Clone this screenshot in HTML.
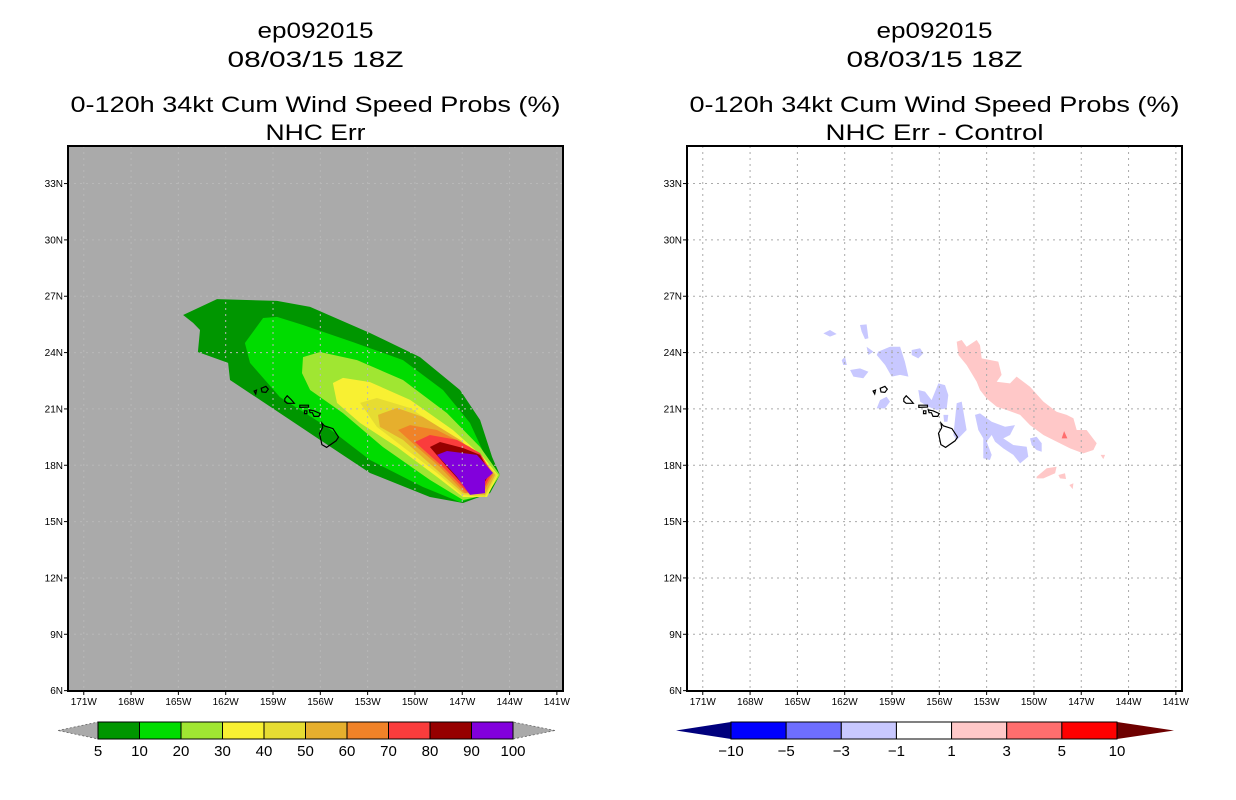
<!DOCTYPE html>
<html><head><meta charset="utf-8"><style>
html,body{margin:0;padding:0;background:#fff;}
svg{display:block;}
text{font-family:"Liberation Sans",sans-serif;}
</style></head><body>
<svg id="chart" width="1236" height="800" viewBox="0 0 1236 800" xmlns="http://www.w3.org/2000/svg"></svg>
<script>
// ---------- data ----------
const lonTicks = [-171,-168,-165,-162,-159,-156,-153,-150,-147,-144,-141];
const lonTickLabels = ["171W","168W","165W","162W","159W","156W","153W","150W","147W","144W","141W"];
const latTicks = [6,9,12,15,18,21,24,27,30,33];
const latTickLabels = ["6N","9N","12N","15N","18N","21N","24N","27N","30N","33N"];

const probLevels = ["5","10","20","30","40","50","60","70","80","90","100"];
const probColors = ["#009600","#00dc00","#a0e632","#f8f032","#e6dc32","#e6af2d","#f08228","#fa3c3c","#960000","#8200dc"];

const contour5 = [[-164.7,26.0],[-162.55,26.85],[-158.75,26.75],[-156.65,26.43],[-152.85,25.04],[-149.68,23.76],[-147.14,22.01],[-145.87,20.41],[-145.11,18.44],[-144.61,17.48],[-145.24,16.52],[-146.95,15.99],[-149.05,16.31],[-152.85,17.59],[-156.02,19.35],[-158.56,20.78],[-161.73,22.54],[-161.85,23.45],[-163.76,24.03],[-163.63,25.2],[-164.07,25.58]];
const contour10 = [[-160.78,24.51],[-159.63,25.84],[-158.75,25.9],[-157.1,25.47],[-153.93,24.56],[-150.76,23.6],[-148.22,22.01],[-146.51,20.25],[-145.37,18.17],[-144.61,17.48],[-145.37,16.52],[-147.14,16.04],[-149.49,16.84],[-152.85,18.28],[-155.58,20.04],[-158.56,21.63],[-160.46,23.45]];
const contour20 = [[-157.1,23.76],[-156.02,24.03],[-153.67,23.6],[-150.76,22.54],[-147.97,20.78],[-145.87,18.97],[-144.61,17.48],[-145.43,16.42],[-146.95,16.15],[-149.05,17.22],[-152.03,18.97],[-154.56,20.78],[-156.65,22.01],[-157.16,22.91]];
const contour30 = [[-155.2,22.38],[-154.56,22.65],[-152.85,22.43],[-150.31,21.48],[-147.59,19.88],[-145.68,18.44],[-144.73,17.48],[-145.43,16.31],[-146.95,16.31],[-148.6,17.38],[-151.14,18.97],[-153.48,20.25],[-154.94,21.32]];
const contour40 = [[-153.48,21.32],[-152.41,21.58],[-150.31,21.05],[-147.59,19.5],[-145.68,18.28],[-144.8,17.48],[-145.56,16.31],[-147.02,16.42],[-148.6,17.59],[-150.76,18.97],[-152.41,20.04]];
const contour50 = [[-152.34,20.68],[-151.14,21.05],[-149.49,20.57],[-147.14,19.35],[-145.56,18.17],[-144.92,17.48],[-145.56,16.42],[-146.95,16.52],[-148.6,17.75],[-150.76,19.35],[-152.22,20.04]];
const contour60 = [[-151.07,19.88],[-150.31,20.14],[-148.6,19.88],[-146.51,18.97],[-145.37,17.91],[-145.05,17.48],[-145.68,16.52],[-146.83,16.52],[-148.41,17.91],[-149.87,18.97]];
const contour70 = [[-150.0,19.24],[-149.05,19.61],[-147.33,19.35],[-145.87,18.65],[-145.11,17.59],[-145.75,16.58],[-146.7,16.58],[-148.22,17.91]];
const contour80 = [[-149.05,18.97],[-148.41,19.24],[-146.95,18.92],[-145.87,18.55],[-145.24,17.59],[-145.87,16.68],[-146.64,16.68],[-147.97,17.91]];
const contour90 = [[-148.6,18.55],[-147.97,18.76],[-146.07,18.55],[-145.05,17.59],[-145.56,17.22],[-145.56,16.52],[-146.51,16.42],[-147.33,17.38]];

const diffLevels = ["-10","-5","-3","-1","1","3","5","10"];
const diffColors = ["#0000ff","#6e6eff","#c8c8ff","#ffffff","#ffc8c8","#ff6e6e","#ff0000"];
const diffLowColor = "#00007d";
const diffHighColor = "#6e0000";

const posBlob1 = [[-154.9,24.58],[-154.58,24.67],[-154.27,24.31],[-153.63,24.67],[-153.42,24.4],[-153.31,23.69],[-152.26,23.52],[-152.05,22.81],[-152.36,22.45],[-151.52,22.36],[-151.1,22.72],[-150.25,22.18],[-149.4,21.39],[-148.56,20.85],[-147.92,20.68],[-147.5,20.5],[-147.29,19.88],[-146.66,19.88],[-146.02,19.17],[-146.23,18.81],[-146.87,18.63],[-147.71,18.9],[-148.56,19.26],[-149.4,19.61],[-150.25,20.14],[-150.88,20.68],[-151.73,20.94],[-152.36,21.12],[-153.0,21.56],[-153.42,22.01],[-153.63,22.45],[-154.27,23.34],[-154.79,23.87]];
const posBlob2 = [[-149.83,17.39],[-149.19,17.84],[-148.56,17.92],[-148.66,17.57],[-149.4,17.3],[-149.83,17.3]];
const posBlob3 = [[-148.45,17.48],[-148.03,17.57],[-147.97,17.27],[-148.35,17.3]];
const posBlob4 = [[-147.76,16.95],[-147.5,17.04],[-147.54,16.73]];
const posBlob5 = [[-145.77,18.55],[-145.49,18.55],[-145.6,18.33]];
const pos3Blob = [[-148.09,19.82],[-147.88,19.43],[-148.24,19.43]];

const negBlob1 = [[-163.35,25.02],[-162.93,25.2],[-162.51,24.99],[-162.93,24.85]];
const negBlob2 = [[-161.03,25.47],[-160.61,25.5],[-160.5,24.76],[-160.71,24.72],[-160.92,25.11]];
const negBlob3 = [[-159.87,24.05],[-159.13,24.31],[-158.49,24.31],[-158.18,23.52],[-157.96,22.72],[-158.49,22.81],[-159.02,22.72],[-159.44,23.34],[-159.97,23.87]];
const negBlob4 = [[-160.61,24.31],[-160.18,24.05],[-160.5,23.87]];
const negBlob5 = [[-157.75,24.14],[-157.22,24.23],[-157.01,23.96],[-157.33,23.69],[-157.75,23.87]];
const negBlob6 = [[-161.66,23.07],[-161.03,23.16],[-160.5,22.98],[-160.82,22.63],[-161.45,22.72]];
const negBlob7 = [[-162.19,23.6],[-161.98,23.78],[-161.87,23.34],[-162.09,23.34]];
const negBlob8 = [[-159.97,21.03],[-159.76,21.47],[-159.34,21.65],[-159.13,21.39],[-159.44,21.03]];
const negBlob9 = [[-157.33,22.01],[-156.91,21.92],[-156.49,21.47],[-156.06,22.36],[-155.64,22.27],[-155.43,21.74],[-155.53,21.03],[-156.17,20.94],[-156.7,21.12],[-157.22,21.39]];
const negBlob10 = [[-154.9,21.3],[-154.58,21.39],[-154.27,19.88],[-154.9,19.34],[-155.11,19.61]];
const negBlob11 = [[-155.74,20.68],[-155.43,20.68],[-155.49,20.32],[-155.7,20.32]];
const negBlob12 = [[-153.74,20.68],[-153.42,20.76],[-152.68,20.32],[-151.83,20.05],[-151.2,20.14],[-151.52,19.61],[-151.94,19.43],[-151.31,19.08],[-150.46,18.99],[-150.36,18.46],[-150.88,18.1],[-151.31,18.55],[-151.94,18.9],[-152.47,19.26],[-152.68,19.61],[-153.0,19.26],[-152.68,18.55],[-152.79,18.28],[-153.21,18.37],[-153.21,19.43],[-153.53,19.88]];
const negBlob13 = [[-150.25,19.43],[-149.83,19.52],[-149.51,19.17],[-149.51,18.72],[-149.83,18.81],[-150.14,19.08]];

const islandHawaii = [[-155.9,20.25],[-155.75,20.1],[-155.2,19.95],[-154.85,19.5],[-155.0,19.3],[-155.6,18.95],[-155.9,19.1],[-156.05,19.7],[-155.85,20.0]];
const islandMaui = [[-156.7,20.95],[-156.4,20.9],[-156.0,20.75],[-156.1,20.6],[-156.4,20.6],[-156.5,20.8],[-156.65,20.8]];
const islandMolokai = [[-157.3,21.2],[-156.75,21.2],[-156.75,21.1],[-157.3,21.08]];
const islandLanai = [[-157.0,20.9],[-156.85,20.9],[-156.85,20.75],[-157.0,20.75]];
const islandOahu = [[-158.25,21.55],[-158.1,21.7],[-157.85,21.5],[-157.65,21.3],[-158.1,21.3],[-158.25,21.4]];
const islandKauai = [[-159.75,22.1],[-159.45,22.2],[-159.3,22.05],[-159.45,21.88],[-159.7,21.9]];
const islandNiihau = [[-160.2,21.95],[-160.05,22.0],[-160.1,21.8]];

// ---------- drawing ----------
const NS = "http://www.w3.org/2000/svg";
const svg = document.getElementById('chart');
const FRAME_W = 495, FRAME_TOP = 146, FRAME_BOT = 691;
const LON0 = -172, PXLON = 15.77, LAT0 = 35, PXLAT = 18.78;
function xScale(lon, x0){ return x0 + (lon - LON0) * PXLON; }
function yScale(lat){ return FRAME_TOP + (LAT0 - lat) * PXLAT; }
function mk(tag, attrs, parent){
  const e = document.createElementNS(NS, tag);
  for (const k in attrs) e.setAttribute(k, attrs[k]);
  (parent || svg).appendChild(e);
  return e;
}
function ptsStr(poly, x0){ return poly.map(p => xScale(p[0], x0).toFixed(1) + ',' + yScale(p[1]).toFixed(1)).join(' '); }
function txt(s, x, y, size, anchor, parent, len){
  const t = mk('text', {x:x, y:y, 'font-size':size, 'text-anchor':anchor||'middle', fill:'#000'}, parent);
  if (len){ t.setAttribute('textLength', len); t.setAttribute('lengthAdjust','spacingAndGlyphs'); }
  t.textContent = s;
  return t;
}

function drawPanel(x0, name, bg, gridColor, subtitle, subLen, fills){
  const g = mk('g', {});
  
  
  const cx = x0 + FRAME_W/2;
  const t1 = txt('ep092015', cx, 38, 22, 'middle', g, 116);
   
  const t2 = txt('08/03/15 18Z', cx, 67, 22, 'middle', g, 176);
   
  const t3 = txt('0-120h 34kt Cum Wind Speed Probs (%)', cx, 112, 22, 'middle', g, 490);
   
  const t4 = txt(subtitle, cx, 140, 22, 'middle', g, subLen);
   

  const clipId = 'clip' + x0;
  const cp = mk('clipPath', {id: clipId}, g);
  mk('rect', {x:x0, y:FRAME_TOP, width:FRAME_W, height:FRAME_BOT-FRAME_TOP}, cp);
  const bgr = mk('rect', {x:x0, y:FRAME_TOP, width:FRAME_W, height:FRAME_BOT-FRAME_TOP, fill:bg}, g);
   
  const plot = mk('g', {'clip-path':'url(#'+clipId+')'}, g);
  fills.forEach(f => {
    const p = mk('polygon', {points: ptsStr(f[0], x0), fill: f[1]}, plot);
    
    
  });
  // grid
  lonTicks.forEach(lon => {
    const x = xScale(lon, x0);
    const l = mk('line', {x1:x, x2:x, y1:FRAME_TOP, y2:FRAME_BOT, stroke:gridColor, 'stroke-width':1, 'stroke-dasharray':'2,4'}, plot);
     
  });
  latTicks.forEach(lat => {
    const y = yScale(lat);
    const l = mk('line', {x1:x0, x2:x0+FRAME_W, y1:y, y2:y, stroke:gridColor, 'stroke-width':1, 'stroke-dasharray':'2,4'}, plot);
     
  });
  // islands
  [islandHawaii, islandMaui, islandMolokai, islandLanai, islandOahu, islandKauai, islandNiihau].forEach(isl => {
    const p = mk('polygon', {points: ptsStr(isl, x0), fill:'none', stroke:'#000', 'stroke-width':1.2}, plot);
     
  });
  const fr = mk('rect', {x:x0, y:FRAME_TOP, width:FRAME_W, height:FRAME_BOT-FRAME_TOP, fill:'none', stroke:'#000', 'stroke-width':2}, g);
   
  // ticks & labels
  lonTicks.forEach((lon, i) => {
    const x = xScale(lon, x0);
    mk('line', {x1:x, x2:x, y1:FRAME_BOT, y2:FRAME_BOT+4, stroke:'#000', 'stroke-width':1}, g);
    const t = txt(lonTickLabels[i], x, FRAME_BOT+14, 10, 'middle', g);
     
  });
  latTicks.forEach((lat, i) => {
    const y = yScale(lat);
    mk('line', {x1:x0-4, x2:x0, y1:y, y2:y, stroke:'#000', 'stroke-width':1}, g);
    const t = txt(latTickLabels[i], x0-5, y+3.5, 10, 'end', g);
     
  });
}

drawPanel(68, 'probability-map-panel', '#aaaaaa', '#b8b8b8', 'NHC Err', 100, [
  [contour5, probColors[0], 'contour-5'],
  [contour10, probColors[1], 'contour-10'],
  [contour20, probColors[2], 'contour-20'],
  [contour30, probColors[3], 'contour-30'],
  [contour40, probColors[4], 'contour-40'],
  [contour50, probColors[5], 'contour-50'],
  [contour60, probColors[6], 'contour-60'],
  [contour70, probColors[7], 'contour-70'],
  [contour80, probColors[8], 'contour-80'],
  [contour90, probColors[9], 'contour-90']
]);

drawPanel(687, 'difference-map-panel', '#ffffff', '#aaaaaa', 'NHC Err - Control', 218, [
  [posBlob1, diffColors[4], 'positive-diff-area'],
  [posBlob2, diffColors[4], 'positive-diff-area'],
  [posBlob3, diffColors[4], 'positive-diff-area'],
  [posBlob4, diffColors[4], 'positive-diff-area'],
  [posBlob5, diffColors[4], 'positive-diff-area'],
  [pos3Blob, diffColors[5], 'positive-diff-3-area'],
  [negBlob1, diffColors[2], 'negative-diff-area'],
  [negBlob2, diffColors[2], 'negative-diff-area'],
  [negBlob3, diffColors[2], 'negative-diff-area'],
  [negBlob4, diffColors[2], 'negative-diff-area'],
  [negBlob5, diffColors[2], 'negative-diff-area'],
  [negBlob6, diffColors[2], 'negative-diff-area'],
  [negBlob7, diffColors[2], 'negative-diff-area'],
  [negBlob8, diffColors[2], 'negative-diff-area'],
  [negBlob9, diffColors[2], 'negative-diff-area'],
  [negBlob10, diffColors[2], 'negative-diff-area'],
  [negBlob11, diffColors[2], 'negative-diff-area'],
  [negBlob12, diffColors[2], 'negative-diff-area'],
  [negBlob13, diffColors[2], 'negative-diff-area']
]);

// colorbars
function colorbar(name, x1, x2, tl, tr, colors, labels, lowC, highC){
  const g = mk('g', {});
  
  
  const yT = 722, yB = 739, yM = 730.5;
  const lt = mk('polygon', {points:`${tl},${yM} ${x1},${yT} ${x1},${yB}`, fill:lowC, stroke: lowC==='#aaaaaa'?'#666':'none', 'stroke-width':0.8, 'stroke-dasharray': lowC==='#aaaaaa'?'2,2':'none'}, g);
   
  const rt = mk('polygon', {points:`${tr},${yM} ${x2},${yT} ${x2},${yB}`, fill:highC, stroke: highC==='#aaaaaa'?'#666':'none', 'stroke-width':0.8, 'stroke-dasharray': highC==='#aaaaaa'?'2,2':'none'}, g);
   
  const w = (x2 - x1) / colors.length;
  colors.forEach((c, i) => {
    const r = mk('rect', {x:x1 + i*w, y:yT, width:w, height:yB-yT, fill:c, stroke:'#000', 'stroke-width':1}, g);
     
  });
  labels.forEach((s, i) => {
    const t = txt(s.replace('-', '\u2212'), x1 + i*w, 756, 15, 'middle', g);
     
  });
}
colorbar('probability-colorbar', 98, 513, 58, 555, probColors, probLevels, '#aaaaaa', '#aaaaaa');
colorbar('difference-colorbar', 731, 1117, 676, 1174, diffColors, diffLevels, diffLowColor, diffHighColor);
</script>
</body></html>
